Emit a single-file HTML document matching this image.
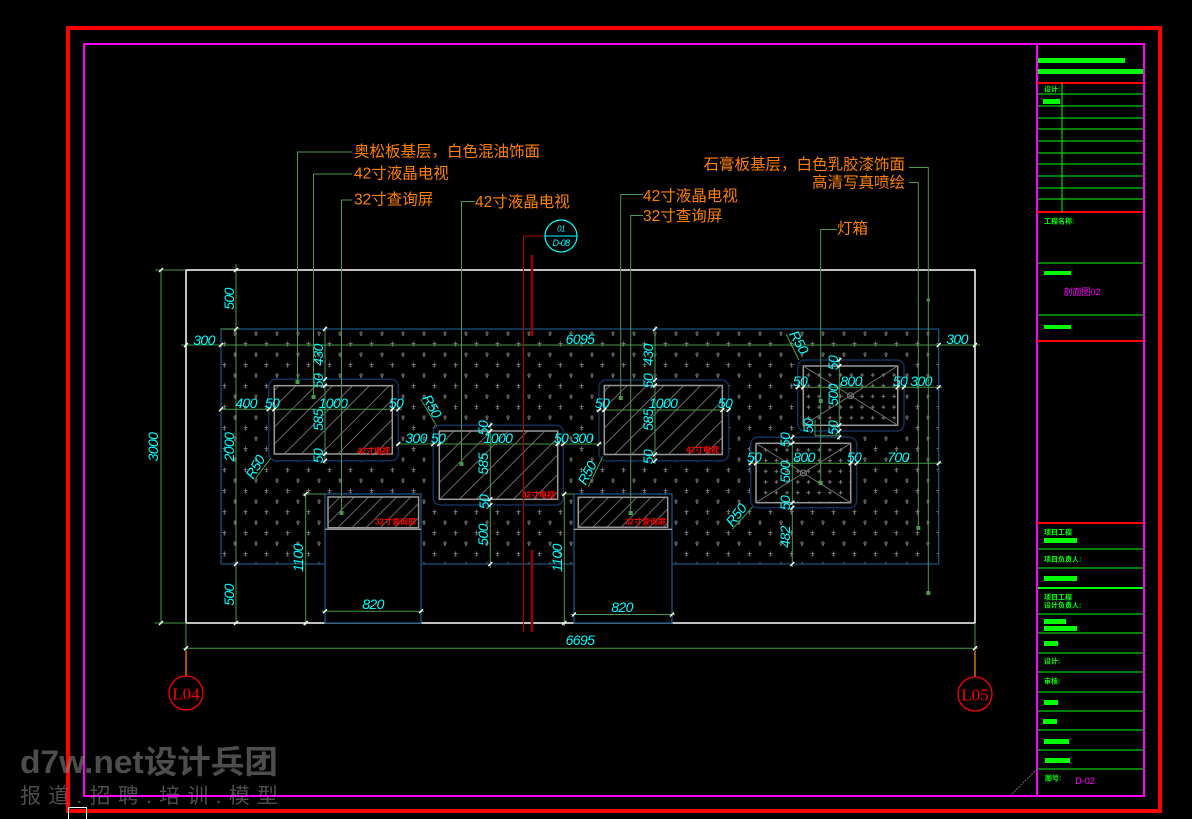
<!DOCTYPE html>
<html><head><meta charset="utf-8">
<style>
html,body{margin:0;padding:0;background:#000;}
svg{display:block}
.d{fill:#00ffff;font-family:"Liberation Sans",sans-serif;font-style:italic;font-size:14px;text-anchor:middle;dominant-baseline:central;letter-spacing:-0.6px}
.l{fill:#ff8000;font-family:"Liberation Sans","Noto Sans CJK SC",sans-serif;font-size:15.5px;dominant-baseline:central}
.r{fill:#ff0000;font-family:"Liberation Sans","Noto Sans CJK SC",sans-serif;font-size:8px;font-weight:bold;text-anchor:end;dominant-baseline:central}
.tb{fill:#00ff00;font-family:"Liberation Sans","Noto Sans CJK SC",sans-serif;font-size:7px;font-weight:bold;dominant-baseline:central}
</style></head><body>
<svg width="1192" height="819" viewBox="0 0 1192 819" xmlns="http://www.w3.org/2000/svg">
<defs>
<pattern id="dots" patternUnits="userSpaceOnUse" width="21" height="21" x="232" y="330">
 <path d="M1 3H5M3 1V5.5M2 4.5L3 5.5L4 4.5 M11.5 13.5H15.5M13.5 11.5V16M12.5 15L13.5 16L14.5 15" stroke="#6e6e6e" stroke-width="1" fill="none"/>
</pattern>
<pattern id="hatch" patternUnits="userSpaceOnUse" width="26" height="26" patternTransform="rotate(45)">
 <line x1="2" y1="0" x2="2" y2="26" stroke="#6a6a6a" stroke-width="1"/>
 <line x1="14" y1="0" x2="14" y2="26" stroke="#6a6a6a" stroke-width="1"/>
</pattern>
<pattern id="hatch2" patternUnits="userSpaceOnUse" width="10" height="10" patternTransform="rotate(45)">
 <line x1="2" y1="0" x2="2" y2="10" stroke="#666" stroke-width="1"/>
</pattern>
<pattern id="plus" patternUnits="userSpaceOnUse" width="10.7" height="10.7" x="805.5" y="372">
 <path d="M1 3H5M3 1V5" stroke="#7a7a7a" stroke-width="1"/>
</pattern>
</defs>

<!-- outer white rect -->
<rect x="186" y="270" width="789" height="353" fill="none" stroke="#ffffff" stroke-width="1.5"/>

<!-- panel with dots -->
<rect x="221" y="329" width="717.7" height="235" fill="url(#dots)"/>
<path d="M221 564V329H938.7V564H672M574 564H421M325 564H221" fill="none" stroke="#1a5585" stroke-width="1.3"/>

<!-- kiosks -->
<rect x="325" y="494" width="96" height="129" fill="#000" stroke="#1a5585" stroke-width="1.3"/>
<rect x="574" y="494" width="98" height="129" fill="#000" stroke="#1a5585" stroke-width="1.3"/>
<rect x="328" y="497" width="90.6" height="30.7" fill="url(#hatch2)" stroke="#9a9a9a" stroke-width="1.5"/>
<rect x="578.3" y="497.3" width="89.4" height="30" fill="url(#hatch2)" stroke="#9a9a9a" stroke-width="1.5"/>
<path d="M325 529.3H421M574 529.3H672" stroke="#9a9a9a" stroke-width="1.3"/>
<text class="r" x="416" y="522">32寸查询屏</text>
<text class="r" x="666" y="522">32寸查询屏</text>

<!-- TVs -->
<rect x="268.7" y="379.3" width="129.6" height="81.4" rx="7" fill="#000" stroke="#12305c" stroke-width="1.5"/>
<rect x="274.3" y="385.7" width="118" height="68.3" fill="url(#hatch)" stroke="#9a9a9a" stroke-width="1.5"/>
<text class="r" x="390" y="451">42寸电视</text>
<rect x="433.3" y="425.3" width="130" height="79.7" rx="7" fill="#000" stroke="#12305c" stroke-width="1.5"/>
<rect x="439.3" y="431" width="118.4" height="68.3" fill="url(#hatch)" stroke="#9a9a9a" stroke-width="1.5"/>
<text class="r" x="555" y="495">42寸电视</text>
<rect x="599" y="380" width="129.6" height="80.7" rx="7" fill="#000" stroke="#12305c" stroke-width="1.5"/>
<rect x="604.3" y="385.5" width="118" height="69" fill="url(#hatch)" stroke="#9a9a9a" stroke-width="1.5"/>
<text class="r" x="719" y="450">42寸电视</text>

<!-- Lightboxes -->
<rect x="797.7" y="360" width="106.3" height="71" rx="7" fill="#000" stroke="#12305c" stroke-width="1.5"/>
<rect x="803.3" y="366" width="94.4" height="59.3" fill="url(#plus)" stroke="#9a9a9a" stroke-width="1.5"/>
<path d="M803.3 366L897.7 425.3M897.7 366L803.3 425.3" stroke="#707070" stroke-width="1"/>
<circle cx="850.5" cy="395.7" r="3" fill="none" stroke="#808080"/>
<rect x="750.7" y="437.3" width="106" height="70.4" rx="7" fill="#000" stroke="#12305c" stroke-width="1.5"/>
<rect x="756" y="443.3" width="94.7" height="59.4" fill="url(#plus)" stroke="#9a9a9a" stroke-width="1.5"/>
<path d="M756 443.3L850.7 502.7M850.7 443.3L756 502.7" stroke="#707070" stroke-width="1"/>
<circle cx="803.3" cy="473" r="3" fill="none" stroke="#808080"/>

<!-- dimension lines -->
<path fill="none" stroke="#4a9a4a" stroke-width="1" d="
M155 270H186M155 623H186M161 270V623
M236 264V623M221 329H240
M181 345H980
M221 409.3H402M325 326V464
M396 444H602M490.3 422V568
M596 410H731M655 326V464
M795 387.3H942M839.3 357V440
M748 463.3H942M792.3 434V567
M815 420V435.7H839.3
M305.7 494V626M302 494H325
M564.3 494V626M561 494H574
M322 611.3H424M571 614.5H675
M186 623V651M975 623V651M183 648.3H978
"/>

<!-- ticks -->
<path fill="none" stroke="#ffffff" stroke-width="1.4" d="
M184 347l4-4M219 347l4-4M936.7 347l4-4M973 347l4-4
M159 272l4-4M159 625l4-4
M234 272l4-4M234 331l4-4M234 566l4-4M234 625l4-4
M219 411.3l4-4M266.7 411.3l4-4M272.3 411.3l4-4M390.3 411.3l4-4M396.3 411.3l4-4
M323 331l4-4M323 381.3l4-4M323 387.7l4-4M323 456l4-4M323 462.7l4-4
M396.3 446l4-4M431.3 446l4-4M437.3 446l4-4M555.7 446l4-4M561.3 446l4-4M597 446l4-4
M488.3 427.3l4-4M488.3 433l4-4M488.3 501.3l4-4M488.3 507l4-4M488.3 566l4-4
M597 412l4-4M602.3 412l4-4M720.3 412l4-4M726.6 412l4-4
M653 331l4-4M653 382l4-4M653 387.5l4-4M653 456.5l4-4M653 462.7l4-4
M795.7 389.3l4-4M801.3 389.3l4-4M895.7 389.3l4-4M902 389.3l4-4M936.7 389.3l4-4
M837.3 362l4-4M837.3 368l4-4M837.3 427.3l4-4M837.3 433l4-4M837.3 439.3l4-4
M748.7 465.3l4-4M754 465.3l4-4M848.7 465.3l4-4M854.7 465.3l4-4M936.7 465.3l4-4
M790.3 439.3l4-4M790.3 445.3l4-4M790.3 504.7l4-4M790.3 509.7l4-4M790.3 566l4-4
M303.7 496l4-4M303.7 625l4-4M562.3 496l4-4M562.3 625l4-4
M323 613.3l4-4M419 613.3l4-4M572 616.5l4-4M670 616.5l4-4
M184 650.3l4-4M973 650.3l4-4
"/>

<!-- R50 leaders -->
<path fill="none" stroke="#4a9a4a" stroke-width="1" d="M256 478L270.7 458.3M420.7 399.3L436.7 426M588.3 486.7L602.7 456.7M786 334L799 360M732.3 529.3L752.7 506.7"/>
<text class="d" x="255" y="467" transform="rotate(-60 255 467)">R50</text>
<text class="d" x="432" y="406" transform="rotate(60 432 406)">R50</text>
<text class="d" x="587" y="473" transform="rotate(-62 587 473)">R50</text>
<text class="d" x="799" y="342" transform="rotate(60 799 342)">R50</text>
<text class="d" x="736" y="515" transform="rotate(-52 736 515)">R50</text>

<!-- horizontal dim texts -->
<text class="d" x="204" y="340">300</text>
<text class="d" x="580" y="339">6095</text>
<text class="d" x="957" y="339">300</text>
<text class="d" x="246" y="403">400</text>
<text class="d" x="272" y="403">50</text>
<text class="d" x="333" y="403">1000</text>
<text class="d" x="396" y="403">50</text>
<text class="d" x="416" y="438">300</text>
<text class="d" x="438" y="438">50</text>
<text class="d" x="498" y="438">1000</text>
<text class="d" x="561" y="438">50</text>
<text class="d" x="582" y="438">300</text>
<text class="d" x="602" y="403">50</text>
<text class="d" x="663" y="403">1000</text>
<text class="d" x="725" y="403">50</text>
<text class="d" x="800" y="381">50</text>
<text class="d" x="851" y="381">800</text>
<text class="d" x="900" y="381">50</text>
<text class="d" x="921" y="381">300</text>
<text class="d" x="754" y="457">50</text>
<text class="d" x="804" y="457">800</text>
<text class="d" x="854" y="457">50</text>
<text class="d" x="898" y="457">700</text>
<text class="d" x="373" y="604">820</text>
<text class="d" x="622" y="607">820</text>
<text class="d" x="580" y="640">6695</text>

<!-- vertical dim texts -->
<text class="d" x="153" y="447" transform="rotate(-90 153 447)">3000</text>
<text class="d" x="229" y="299" transform="rotate(-90 229 299)">500</text>
<text class="d" x="229" y="447" transform="rotate(-90 229 447)">2000</text>
<text class="d" x="229" y="595" transform="rotate(-90 229 595)">500</text>
<text class="d" x="318" y="355" transform="rotate(-90 318 355)">430</text>
<text class="d" x="318" y="381" transform="rotate(-90 318 381)">50</text>
<text class="d" x="318" y="420" transform="rotate(-90 318 420)">585</text>
<text class="d" x="318" y="456" transform="rotate(-90 318 456)">50</text>
<text class="d" x="483" y="428" transform="rotate(-90 483 428)">50</text>
<text class="d" x="483" y="464" transform="rotate(-90 483 464)">585</text>
<text class="d" x="484" y="502" transform="rotate(-90 484 502)">50</text>
<text class="d" x="483" y="535" transform="rotate(-90 483 535)">500</text>
<text class="d" x="648" y="355" transform="rotate(-90 648 355)">430</text>
<text class="d" x="648" y="381" transform="rotate(-90 648 381)">50</text>
<text class="d" x="648" y="420" transform="rotate(-90 648 420)">585</text>
<text class="d" x="648" y="457" transform="rotate(-90 648 457)">50</text>
<text class="d" x="833" y="363" transform="rotate(-90 833 363)">50</text>
<text class="d" x="833" y="395" transform="rotate(-90 833 395)">500</text>
<text class="d" x="833" y="428" transform="rotate(-90 833 428)">50</text>
<text class="d" x="808" y="426" transform="rotate(-90 808 426)">50</text>
<text class="d" x="785" y="440" transform="rotate(-90 785 440)">50</text>
<text class="d" x="785" y="472" transform="rotate(-90 785 472)">500</text>
<text class="d" x="785" y="503" transform="rotate(-90 785 503)">50</text>
<text class="d" x="785" y="537" transform="rotate(-90 785 537)">482</text>
<text class="d" x="298" y="558" transform="rotate(-90 298 558)">1100</text>
<text class="d" x="557" y="558" transform="rotate(-90 557 558)">1100</text>

<!-- section marker -->
<path d="M523.5 236V632M523.5 236H545" stroke="#b00000" stroke-width="1" fill="none"/>
<path d="M532 255V336M532 550V632" stroke="#9a0000" stroke-width="2.5" fill="none"/>
<circle cx="561" cy="236" r="16" fill="none" stroke="#00ffff" stroke-width="1.2"/>
<path d="M545 236H577" stroke="#00ffff" stroke-width="1"/>
<text class="d" x="561" y="229" style="font-size:8px">01</text>
<text class="d" x="561" y="243" style="font-size:9px">D-08</text>

<!-- leaders -->
<path fill="none" stroke="#4a9a4a" stroke-width="1" d="
M352 152H297.5V382
M352 174H313.5V397
M352 200H341.5V513
M475 201.5H461.5V464
M643 194.5H620.7V398
M643 215.5H630.7V513
M837 229.5H820.7V483
M909 167.5H928.3V593
M909 182.5H918.3V528
"/>
<g fill="#4a9a4a">
<rect x="295.5" y="380" width="4" height="4"/>
<rect x="311.5" y="395" width="4" height="4"/>
<rect x="339.5" y="511" width="4" height="4"/>
<rect x="459.5" y="462" width="4" height="4"/>
<rect x="618.7" y="396" width="4" height="4"/>
<rect x="628.7" y="511" width="4" height="4"/>
<rect x="818.7" y="399" width="4" height="4"/>
<rect x="818.7" y="481" width="4" height="4"/>
<rect x="926.3" y="591" width="4" height="4"/>
<rect x="916.3" y="526" width="4" height="4"/>
<rect x="926.8" y="298.5" width="3" height="3"/>
</g>

<!-- labels -->
<text class="l" x="354" y="152">奥松板基层，白色混油饰面</text>
<text class="l" x="354" y="174">42寸液晶电视</text>
<text class="l" x="354" y="200">32寸查询屏</text>
<text class="l" x="475" y="202.5">42寸液晶电视</text>
<text class="l" x="643" y="196.5">42寸液晶电视</text>
<text class="l" x="643" y="216.5">32寸查询屏</text>
<text class="l" x="837" y="229">灯箱</text>
<text class="l" x="905" y="165" text-anchor="end">石膏板基层，白色乳胶漆饰面</text>
<text class="l" x="905" y="183" text-anchor="end">高清写真喷绘</text>

<!-- axis markers -->
<path d="M186 651V676M975 651V677" stroke="#ff8000" stroke-width="1.3"/>
<circle cx="186" cy="693" r="17" fill="none" stroke="#ff0000" stroke-width="1.3"/>
<circle cx="975" cy="694" r="17" fill="none" stroke="#ff0000" stroke-width="1.3"/>
<text x="186" y="694" fill="#ff0000" font-family="Liberation Serif,serif" font-size="17" text-anchor="middle" dominant-baseline="central">L04</text>
<text x="975" y="695" fill="#ff0000" font-family="Liberation Serif,serif" font-size="17" text-anchor="middle" dominant-baseline="central">L05</text>

<!-- title block -->
<path d="M1037 44V796" stroke="#ff00ff" stroke-width="2"/>
<rect x="1038" y="58" width="87" height="5" fill="#00ff00"/>
<rect x="1038" y="69" width="105" height="5" fill="#00ff00"/>
<path d="M1037 83H1144M1037 212H1144M1037 341H1144M1037 523H1144" stroke="#ff0000" stroke-width="2"/>
<path d="M1062 83V212" stroke="#00ff00" stroke-width="1"/>
<path stroke="#00ff00" stroke-width="1" d="M1038 94H1144M1038 106H1144M1038 118H1144M1038 129H1144M1038 141H1144M1038 153H1144M1038 164H1144M1038 176H1144M1038 188H1144M1038 199H1144
M1038 263H1144M1038 315H1144
M1038 549H1144M1038 568H1144M1038 614H1144M1038 633H1144M1038 653H1144M1038 672H1144M1038 692H1144M1038 711H1144M1038 730H1144M1038 750H1144M1038 769H1144"/>
<path d="M1038 588H1144" stroke="#00ff00" stroke-width="2"/>
<text class="tb" x="1044" y="90">设计:</text>
<rect x="1043" y="99" width="17" height="5" fill="#00ff00"/>
<text class="tb" x="1044" y="222">工程名称:</text>
<rect x="1044" y="271" width="27" height="4" fill="#00ff00"/>
<text x="1082" y="292" fill="#ff00ff" font-family="Liberation Sans,Noto Sans CJK SC,sans-serif" font-size="9" text-anchor="middle" dominant-baseline="central">剖面图02</text>
<rect x="1044" y="325" width="27" height="4" fill="#00ff00"/>
<text class="tb" x="1044" y="533">项目工程</text>
<rect x="1044" y="538" width="33" height="5" fill="#00ff00"/>
<text class="tb" x="1044" y="560">项目负责人:</text>
<rect x="1044" y="576" width="33" height="5" fill="#00ff00"/>
<text class="tb" x="1044" y="598">项目工程</text>
<text class="tb" x="1044" y="606">设计负责人:</text>
<rect x="1044" y="619" width="22" height="5" fill="#00ff00"/>
<rect x="1044" y="626" width="33" height="5" fill="#00ff00"/>
<rect x="1044" y="641" width="14" height="5" fill="#00ff00"/>
<text class="tb" x="1044" y="662">设计:</text>
<text class="tb" x="1044" y="682">审核:</text>
<rect x="1044" y="700" width="14" height="5" fill="#00ff00"/>
<rect x="1043" y="719" width="14" height="5" fill="#00ff00"/>
<rect x="1044" y="739" width="25" height="5" fill="#00ff00"/>
<rect x="1045" y="758" width="25" height="5" fill="#00ff00"/>
<text class="tb" x="1045" y="779">图号:</text>
<text x="1085" y="781" fill="#ff00ff" font-family="Liberation Sans,sans-serif" font-size="9" text-anchor="middle" dominant-baseline="central">D-02</text>
<path d="M1010 796L1037 769" stroke="#6a6a6a" stroke-width="1" stroke-dasharray="2 1"/>

<!-- frames -->
<rect x="84" y="44" width="1060" height="752" fill="none" stroke="#ff00ff" stroke-width="2"/>
<rect x="68" y="28" width="1092" height="783" fill="none" stroke="#ff0000" stroke-width="4"/>
<rect x="68.5" y="807.5" width="18" height="12" fill="none" stroke="#ffffff" stroke-width="1"/>

<!-- watermark -->
<text x="20" y="773" fill="rgba(140,140,140,0.55)" font-family="Liberation Sans,Noto Sans CJK SC,sans-serif" font-weight="bold" font-size="32" textLength="258" lengthAdjust="spacingAndGlyphs">d7w.net设计兵团</text>
<text x="20" y="803" fill="rgba(140,140,140,0.55)" font-family="Liberation Sans,Noto Sans CJK SC,sans-serif" font-size="21" textLength="258" lengthAdjust="spacing">报道.招聘.培训.模型</text>
</svg>
</body></html>
